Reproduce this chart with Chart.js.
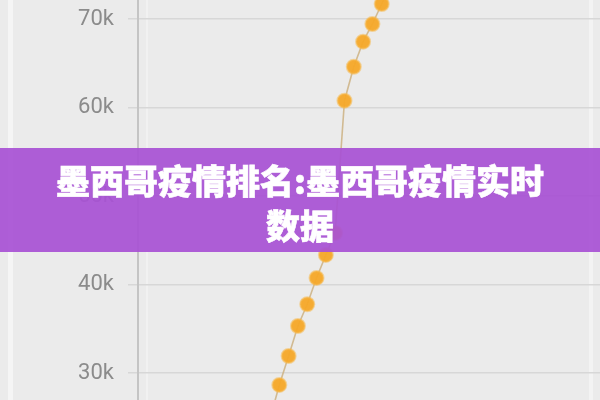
<!DOCTYPE html>
<html>
<head>
<meta charset="utf-8">
<script src="https://cdn.jsdelivr.net/npm/chart.js@4"></script>
<style>
  html, body { margin: 0; padding: 0; }
  body { width: 600px; height: 400px; background: #ebebeb; position: relative; overflow: hidden; }
  .strip { position: absolute; top: 0; height: 400px; }
  #wrap { position: absolute; left: 0; top: 0; width: 600px; height: 400px; }
  #banner {
    position: absolute; left: 0; top: 148px; width: 600px; height: 104px;
    background: rgba(168, 82, 212, 0.93);
    color: #ffffff; text-align: center;
    font-family: "Noto Sans CJK SC", "Noto Sans", sans-serif; font-weight: 900;
    font-size: 34px; line-height: 45px; box-sizing: border-box; padding-top: 9px;
    -webkit-text-stroke: 0.6px #ffffff;
  }
</style>
</head>
<body>
<div class="strip" style="left:8px;width:5px;background:#f5f5f5;"></div>
<div class="strip" style="left:146px;width:2px;background:#f1f1f1;"></div>
<div class="strip" style="left:589px;width:4px;background:#f3f3f3;"></div>
<div id="wrap"><canvas id="c" width="600" height="400"></canvas></div>
<div id="banner">墨西哥疫情排名:墨西哥疫情实时<br>数据</div>
<script>
// Day index (relative) and cumulative cases
const days   = [-1, 0, 1, 2, 3, 4, 5, 6, 7, 8, 9, 10, 11, 12];
const cases  = [24800, 28650, 31920, 35310, 37770, 40740, 43340, 45820, 60770, 64610, 67440, 69440, 71700, 74000];
const tickValues = [30000, 40000, 50000, 60000, 70000];
const tickLabels = ['30k', '40k', '50k', '60k', '70k'];

const points = days.map((d, i) => ({ x: d, y: cases[i] }));

new Chart(document.getElementById('c'), {
  type: 'line',
  data: {
    datasets: [{
      data: points,
      borderColor: 'rgba(205,178,130,0.85)',
      borderWidth: 1.6,
      pointRadius: 7,
      pointBackgroundColor: 'rgba(245,168,40,0.95)',
      pointBorderColor: 'rgba(246,185,80,0.55)',
      pointBorderWidth: 2,
      tension: 0,
      fill: false
    }]
  },
  options: {
    responsive: false,
    animation: false,
    events: [],
    layout: { padding: 0, autoPadding: false },
    plugins: { legend: { display: false }, tooltip: { enabled: false }, title: { display: false } },
    scales: {
      x: { type: 'linear', display: false, min: -15.18, max: 34.45 },
      y: {
        type: 'linear', position: 'left', min: 26950, max: 72150,
        afterBuildTicks: (scale) => { scale.ticks = tickValues.map(v => ({ value: v })); },
        afterFit: (scale) => { scale.width = 138; scale.paddingTop = 0; scale.paddingBottom = 0; },
        ticks: {
          padding: 14,
          color: '#8b8b8b',
          font: { family: 'Roboto', size: 22 },
          callback: (v) => tickLabels[tickValues.indexOf(v)]
        },
        grid: { color: '#d7d7d7', lineWidth: 1.5, tickLength: 10, drawTicks: true },
        border: { display: true, color: '#c4c4c4', width: 2 }
      }
    }
  }
});
</script>
</body>
</html>
